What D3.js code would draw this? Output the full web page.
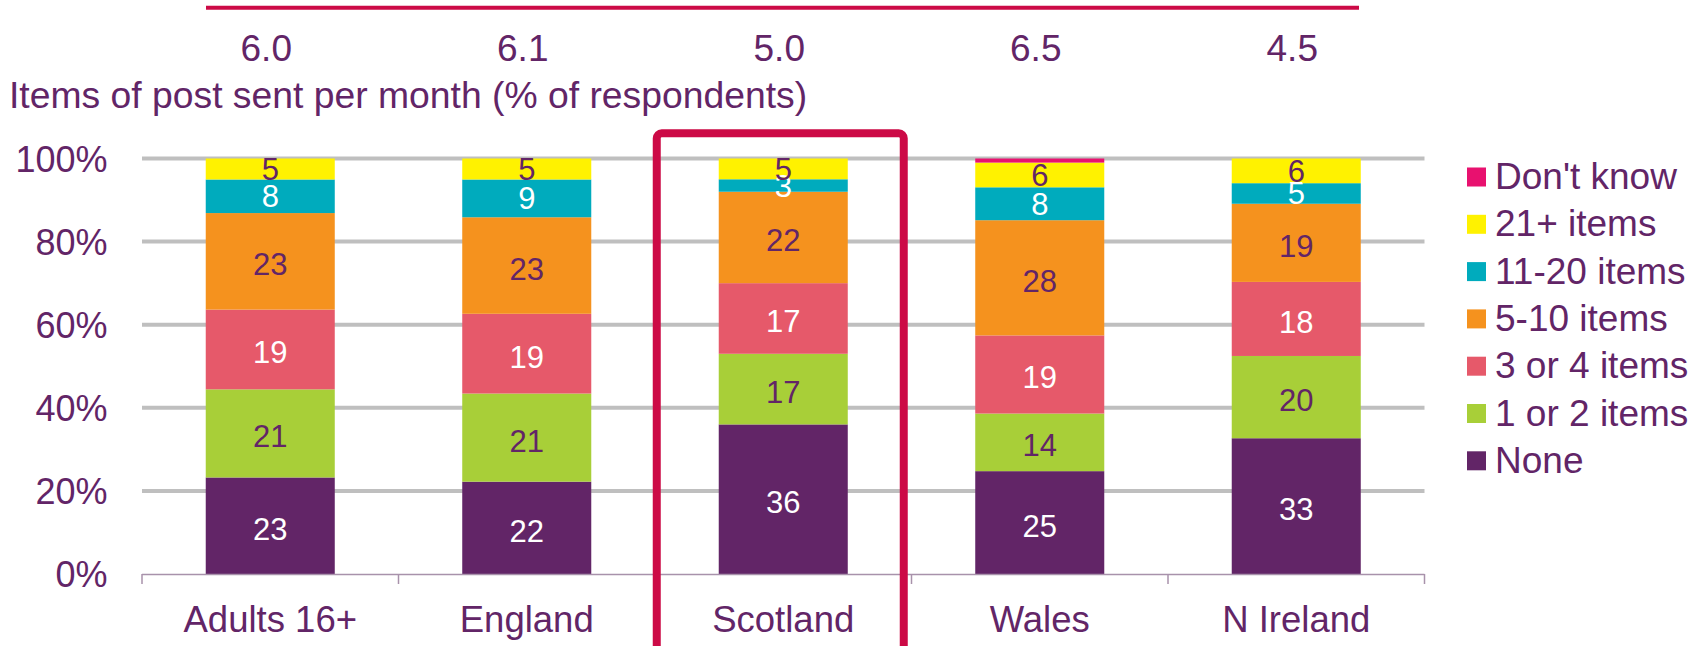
<!DOCTYPE html>
<html>
<head>
<meta charset="utf-8">
<script src="https://cdn.jsdelivr.net/npm/d3@7"></script>
<style>
  html, body { margin: 0; padding: 0; background: #fff; }
  svg { display: block; font-family: "Liberation Sans", Arial, sans-serif; }
</style>
</head>
<body>
<svg id="chart" width="1702" height="646"></svg>
<script>
// ---- Data ----
const categories = ["Adults 16+", "England", "Scotland", "Wales", "N Ireland"];
const seriesNames = ["None", "1 or 2 items", "3 or 4 items", "5-10 items", "11-20 items", "21+ items", "Don't know"];
const none          = [23, 22, 36, 25, 33];
const oneOrTwo      = [21, 21, 17, 14, 20];
const threeOrFour   = [19, 19, 17, 19, 18];
const fiveToTen     = [23, 23, 22, 28, 19];
const elevenToTwenty= [8, 9, 3, 8, 5];
const twentyOnePlus = [5, 5, 5, 6, 6];
const dontKnow      = [0, 0, 0, 1, 0];
const meanItems     = ["6.0", "6.1", "5.0", "6.5", "4.5"];
const yTickValues   = [0, 0.2, 0.4, 0.6, 0.8, 1.0];
const titleText     = "Items of post sent per month (% of respondents)";
const highlighted   = "Scotland";

const seriesValues = [none, oneOrTwo, threeOrFour, fiveToTen, elevenToTwenty, twentyOnePlus, dontKnow];
const colors = ["#622567", "#a8cf38", "#e6596a", "#f5921e", "#00abbd", "#fff200", "#e8116f"];
const labelColors = ["#ffffff", "#622567", "#ffffff", "#622567", "#ffffff", "#622567", null];
const textColor = "#622567";
const red = "#cc0a46";

const rows = categories.map((c, i) => {
  const r = { category: c };
  seriesNames.forEach((s, j) => r[s] = seriesValues[j][i]);
  return r;
});

const svg = d3.select("#chart");
const x0 = 142, x1 = 1424.5, yTop = 158.5, yBottom = 574;

const x = d3.scaleBand().domain(categories).range([x0, x1]).padding(0);
const y = d3.scaleLinear().domain([0, 1]).range([yBottom, yTop]);
const barW = x.bandwidth() * 0.503;

const stack = d3.stack().keys(seriesNames).offset(d3.stackOffsetExpand);
const stacked = stack(rows);

// top red line
svg.append("line")
  .attr("x1", 206).attr("x2", 1359).attr("y1", 7.7).attr("y2", 7.7)
  .attr("stroke", red).attr("stroke-width", 4);

// header values
svg.append("g").selectAll("text").data(meanItems).join("text")
  .attr("x", (d, i) => x(categories[i]) + x.bandwidth() / 2 - 4)
  .attr("y", 61)
  .attr("text-anchor", "middle")
  .attr("font-size", 37)
  .attr("fill", textColor)
  .text(d => d);

// title
svg.append("text")
  .attr("x", 9).attr("y", 108)
  .attr("font-size", 37.3)
  .attr("fill", textColor)
  .text(titleText);

// gridlines
svg.append("g").selectAll("line").data(yTickValues.filter(v => v > 0)).join("line")
  .attr("x1", x0).attr("x2", x1)
  .attr("y1", d => y(d)).attr("y2", d => y(d))
  .attr("stroke", "#bfbfbf").attr("stroke-width", 4);

// y tick labels
svg.append("g").selectAll("text").data(yTickValues).join("text")
  .attr("x", 107.5)
  .attr("y", d => y(d) + 13)
  .attr("text-anchor", "end")
  .attr("font-size", 36)
  .attr("fill", textColor)
  .text(d => d3.format(".0%")(d));

// bars
const layers = svg.append("g").selectAll("g").data(stacked).join("g")
  .attr("fill", (d, i) => colors[i]);
layers.selectAll("rect").data(d => d.map((p, i) => ({ p, cat: categories[i] }))).join("rect")
  .attr("x", d => x(d.cat) + (x.bandwidth() - barW) / 2)
  .attr("width", barW)
  .attr("y", d => y(d.p[1]))
  .attr("height", d => Math.max(0, y(d.p[0]) - y(d.p[1])));

// x axis line & ticks
svg.append("line")
  .attr("x1", x0).attr("x2", x1).attr("y1", yBottom + 0.5).attr("y2", yBottom + 0.5)
  .attr("stroke", "#a892ab").attr("stroke-width", 1.5);
const tickXs = categories.map(c => x(c)).concat([x1]);
svg.append("g").selectAll("line").data(tickXs).join("line")
  .attr("x1", d => d).attr("x2", d => d)
  .attr("y1", yBottom).attr("y2", yBottom + 10)
  .attr("stroke", "#a892ab").attr("stroke-width", 1.5);

// value labels
stacked.forEach((layer, j) => {
  if (!labelColors[j]) return;
  const seg = layer.map((p, i) => ({ p, cat: categories[i], v: seriesValues[j][i] }));
  svg.append("g").selectAll("text").data(seg).join("text")
    .attr("x", d => x(d.cat) + x.bandwidth() / 2)
    .attr("y", d => {
      const h = y(d.p[0]) - y(d.p[1]);
      return (y(d.p[0]) + y(d.p[1])) / 2 + 11 + (h > 40 ? 3 : 0);
    })
    .attr("text-anchor", "middle")
    .attr("font-size", 31)
    .attr("fill", labelColors[j])
    .text(d => d.v);
});

// category labels
svg.append("g").selectAll("text").data(categories).join("text")
  .attr("x", d => x(d) + x.bandwidth() / 2)
  .attr("y", 632)
  .attr("text-anchor", "middle")
  .attr("font-size", 36.5)
  .attr("fill", textColor)
  .text(d => d);

// highlight box around Scotland
const hx = x(highlighted) + x.bandwidth() / 2;
svg.append("rect")
  .attr("x", hx - 126.5).attr("y", 133.3)
  .attr("width", 247).attr("height", 530)
  .attr("rx", 5).attr("ry", 5)
  .attr("fill", "none").attr("stroke", red).attr("stroke-width", 8);

// legend
const legendOrder = seriesNames.slice().reverse();
const lg = svg.append("g").selectAll("g").data(legendOrder).join("g")
  .attr("transform", (d, i) => `translate(1467, ${177 + i * 47.3})`);
lg.append("rect")
  .attr("x", 0).attr("y", -9.5).attr("width", 19).attr("height", 19)
  .attr("fill", d => colors[seriesNames.indexOf(d)]);
lg.append("text")
  .attr("x", 28).attr("y", 12)
  .attr("font-size", 37)
  .attr("fill", textColor)
  .text(d => d);
</script>
</body>
</html>
